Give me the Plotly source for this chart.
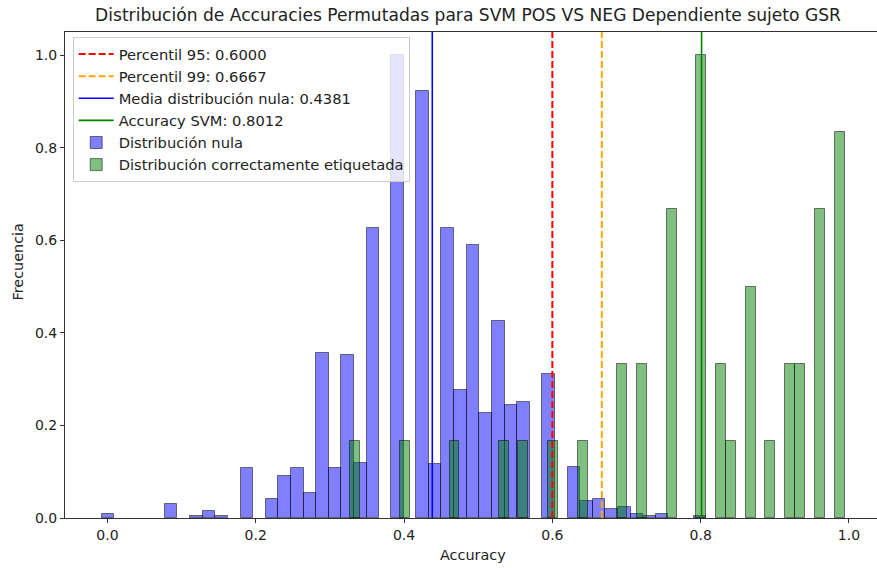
import plotly.graph_objects as go

# ---- data ----
null_centers = [0.001, 0.086, 0.120, 0.137, 0.154, 0.188, 0.222, 0.239, 0.256, 0.273,
                0.290, 0.307, 0.324, 0.341, 0.358, 0.391, 0.425, 0.442, 0.459, 0.476,
                0.493, 0.510, 0.527, 0.544, 0.561, 0.595, 0.629, 0.646, 0.663, 0.680,
                0.697, 0.714, 0.731, 0.748, 0.799]
null_heights = [0.009, 0.030, 0.004, 0.016, 0.004, 0.109, 0.041, 0.091, 0.109, 0.055,
                0.357, 0.107, 0.353, 0.118, 0.627, 1.000, 0.922, 0.117, 0.626, 0.276,
                0.589, 0.227, 0.426, 0.245, 0.250, 0.312, 0.111, 0.036, 0.040, 0.019,
                0.024, 0.0095, 0.004, 0.0095, 0.004]
null_bin_width = 0.01698

true_centers = [0.334, 0.401, 0.468, 0.535, 0.561, 0.601, 0.641, 0.694, 0.721, 0.761,
                0.801, 0.828, 0.841, 0.868, 0.894, 0.921, 0.934, 0.961, 0.988]
true_heights = [1/6, 1/6, 1/6, 1/6, 1/6, 1/6, 1/6, 2/6, 2/6, 4/6,
                6/6, 2/6, 1/6, 3/6, 1/6, 2/6, 2/6, 4/6, 5/6]
true_bin_width = 0.01333

p95 = 0.6000
p99 = 0.6667
null_mean = 0.4381
svm_acc = 0.8012

x_ticks = [0.0, 0.2, 0.4, 0.6, 0.8, 1.0]
y_ticks = [0.0, 0.2, 0.4, 0.6, 0.8, 1.0]
tick_labels_x = ["0.0", "0.2", "0.4", "0.6", "0.8", "1.0"]
tick_labels_y = ["0.0", "0.2", "0.4", "0.6", "0.8", "1.0"]

title = "Distribución de Accuracies Permutadas para SVM POS VS NEG Dependiente sujeto GSR"
y_top = 1.05

FONT = "DejaVu Sans"
FS = 14

fig = go.Figure()

fig.add_trace(go.Bar(
    x=null_centers, y=null_heights, width=null_bin_width,
    marker=dict(color="rgba(0,0,255,0.5)", line=dict(color="rgba(0,0,0,0.5)", width=1)),
    name="Distribución nula", legendrank=5,
))
fig.add_trace(go.Bar(
    x=true_centers, y=true_heights, width=true_bin_width,
    marker=dict(color="rgba(0,128,0,0.5)", line=dict(color="rgba(0,0,0,0.5)", width=1)),
    name="Distribución correctamente etiquetada", legendrank=6,
))

def vline(v, color, dash, name, rank, width):
    fig.add_trace(go.Scatter(
        x=[v, v], y=[0, y_top], mode="lines",
        line=dict(color=color, dash=dash, width=width),
        name=name, legendrank=rank,
    ))

vline(p95, "red", "7px,3px", f"Percentil 95: {p95:.4f}", 1, 2)
vline(p99, "orange", "7px,3px", f"Percentil 99: {p99:.4f}", 2, 2)
vline(null_mean, "blue", "solid", f"Media distribución nula: {null_mean:.4f}", 3, 1.6)
vline(svm_acc, "green", "solid", f"Accuracy SVM: {svm_acc:.4f}", 4, 1.6)

for i, tr in enumerate(fig.data):
    tr.legendgroup = f"g{i}"

fig.update_layout(
    width=877, height=568,
    margin=dict(l=65, r=0, t=32, b=50),
    paper_bgcolor="white", plot_bgcolor="white",
    barmode="overlay", bargap=0,
    font=dict(family=FONT, size=FS, color="#222"),
    title=dict(text=title, x=468/877, xanchor="center", y=1 - 15/568, yanchor="middle",
               font=dict(family=FONT, size=17.1, color="#222")),
    legend=dict(
        x=(72.7 - 65) / 812, y=1 - (37 - 32) / 486, xanchor="left", yanchor="top",
        bgcolor="rgba(255,255,255,0.8)", bordercolor="#cccccc", borderwidth=1,
        font=dict(family=FONT, size=14.7, color="#222"),
        traceorder="grouped", tracegroupgap=0, itemwidth=35,
    ),
    showlegend=True,
)

fig.update_xaxes(
    range=[-0.0572, 1.0378], tickvals=x_ticks, ticktext=tick_labels_x,
    ticks="outside", ticklen=4, tickcolor="#333", showline=True, linecolor="#333",
    linewidth=1, mirror=True, showgrid=False, zeroline=False,
    tickfont=dict(family=FONT, size=FS, color="#222"),
)
fig.update_yaxes(
    range=[0, y_top], tickvals=y_ticks, ticktext=tick_labels_y,
    ticks="outside", ticklen=4, tickcolor="#333", showline=True, linecolor="#333",
    linewidth=1, mirror=False, showgrid=False, zeroline=False,
    tickfont=dict(family=FONT, size=FS, color="#222"),
)

fig.add_annotation(text="Accuracy", xref="paper", yref="paper", x=(473 - 65) / 812,
                   y=0, yshift=-(555 - 518), xanchor="center", yanchor="middle",
                   showarrow=False, font=dict(family=FONT, size=14.4, color="#222"))
fig.add_annotation(text="Frecuencia", xref="paper", yref="paper", x=0, xshift=-(65 - 17.5),
                   y=(518 - 262) / 486, xanchor="center", yanchor="middle", textangle=-90,
                   showarrow=False, font=dict(family=FONT, size=14.4, color="#222"))

fig.write_html("out.html")
